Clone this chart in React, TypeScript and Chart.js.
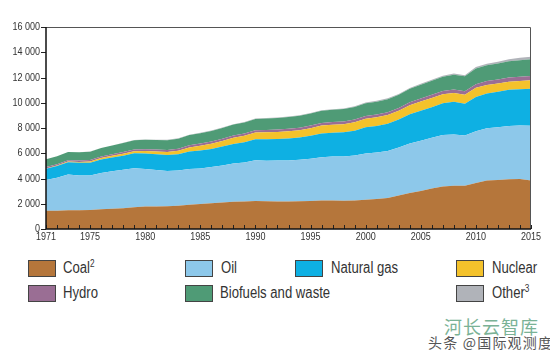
import React, { useEffect, useRef } from "react";
import { Chart, registerables } from "chart.js";

Chart.register(...registerables);

const years: number[] = [];
for (let y = 1971; y <= 2015; y++) years.push(y);

const coal = [1437, 1450, 1495, 1490, 1510, 1560, 1610, 1640, 1720, 1780, 1790, 1800, 1850, 1930, 1990, 2030, 2100, 2150, 2180, 2220, 2190, 2170, 2180, 2190, 2210, 2260, 2260, 2240, 2260, 2320, 2370, 2450, 2650, 2850, 3010, 3200, 3370, 3430, 3420, 3650, 3850, 3880, 3950, 3960, 3840];
const oil = [2437, 2600, 2819, 2750, 2720, 2880, 2960, 3050, 3100, 2980, 2880, 2800, 2790, 2830, 2810, 2880, 2930, 3030, 3080, 3230, 3220, 3250, 3240, 3290, 3360, 3420, 3490, 3510, 3570, 3660, 3680, 3720, 3800, 3920, 3990, 4030, 4080, 4060, 3990, 4100, 4130, 4170, 4210, 4230, 4330];
const naturalGas = [895, 940, 976, 1000, 1010, 1060, 1090, 1120, 1180, 1230, 1250, 1260, 1280, 1370, 1410, 1430, 1500, 1560, 1620, 1660, 1700, 1710, 1740, 1760, 1810, 1880, 1880, 1910, 1960, 2070, 2100, 2160, 2220, 2310, 2370, 2420, 2510, 2580, 2520, 2710, 2760, 2830, 2860, 2880, 2948];
const nuclear = [29, 39, 53, 67, 100, 115, 136, 160, 165, 186, 220, 245, 280, 335, 390, 420, 450, 485, 500, 526, 550, 555, 575, 585, 608, 630, 625, 640, 660, 676, 695, 700, 690, 715, 722, 728, 709, 712, 703, 719, 674, 642, 646, 662, 670];
const hydro = [104, 108, 110, 120, 123, 124, 127, 135, 141, 147, 149, 153, 159, 163, 166, 169, 170, 174, 175, 184, 189, 189, 197, 199, 211, 214, 217, 218, 220, 225, 222, 225, 225, 240, 250, 258, 262, 274, 277, 296, 300, 315, 326, 334, 335];
const biofuels = [617, 625, 640, 650, 660, 675, 690, 705, 720, 750, 765, 780, 795, 810, 825, 840, 855, 870, 885, 900, 910, 920, 930, 940, 950, 965, 975, 985, 995, 1010, 1020, 1030, 1045, 1065, 1090, 1110, 1130, 1160, 1180, 1240, 1260, 1280, 1300, 1310, 1320];
const other = [4, 5, 6, 7, 8, 9, 10, 12, 14, 17, 20, 22, 25, 28, 30, 32, 33, 34, 35, 36, 38, 39, 40, 41, 43, 44, 46, 48, 52, 60, 62, 65, 68, 72, 76, 80, 85, 92, 98, 110, 125, 140, 160, 180, 205];

const labeledYears = [1971, 1975, 1980, 1985, 1990, 1995, 2000, 2005, 2010, 2015];
const yTickValues = [0, 2000, 4000, 6000, 8000, 10000, 12000, 14000, 16000];

const seriesNames = ["Coal", "Oil", "Natural gas", "Nuclear", "Hydro", "Biofuels and waste", "Other"];
const seriesData = [coal, oil, naturalGas, nuclear, hydro, biofuels, other];
const seriesColors = ["#b5763b", "#8dc8ea", "#0eb0e3", "#f4c22b", "#9a6e94", "#4f9b76", "#b0b3b9"];

const SANS = "'Liberation Sans', Arial, sans-serif";
const SQUEEZE = 0.82;

const fmt = (v: number) => String(v).replace(/\B(?=(\d{3})+(?!\d))/g, " ");

function squeezedText(ctx: CanvasRenderingContext2D, text: string, x: number, y: number, align: "left" | "right" | "center") {
  const w = ctx.measureText(text).width * SQUEEZE;
  let left = x;
  if (align === "right") left = x - w;
  else if (align === "center") left = x - w / 2;
  ctx.save();
  ctx.translate(left, y);
  ctx.scale(SQUEEZE, 1);
  ctx.textAlign = "left";
  ctx.fillText(text, 0, 0);
  ctx.restore();
}

const framePlugin = {
  id: "frame",
  afterDatasetsDraw(chart: any) {
    const { ctx, chartArea } = chart;
    const { left, right, top, bottom } = chartArea;
    const xs = chart.scales.x;
    const ys = chart.scales.y;
    ctx.save();
    // inward year ticks
    ctx.strokeStyle = "#222";
    ctx.lineWidth = 1;
    for (let i = 0; i < years.length; i++) {
      const px = Math.round(xs.getPixelForValue(i)) + 0.5;
      ctx.beginPath();
      ctx.moveTo(px, bottom);
      ctx.lineTo(px, bottom - 4);
      ctx.stroke();
    }
    // y tick marks
    for (const v of yTickValues) {
      const py = Math.round(ys.getPixelForValue(v)) + 0.5;
      ctx.beginPath();
      ctx.moveTo(left - 5, py);
      ctx.lineTo(left, py);
      ctx.stroke();
    }
    // box top/right
    ctx.strokeStyle = "#555";
    ctx.beginPath();
    ctx.moveTo(left, top + 0.5);
    ctx.lineTo(right - 0.5, top + 0.5);
    ctx.lineTo(right - 0.5, bottom);
    ctx.stroke();
    // left axis & bottom axis
    ctx.strokeStyle = "#111";
    ctx.lineWidth = 1.5;
    ctx.beginPath();
    ctx.moveTo(left, top);
    ctx.lineTo(left, bottom);
    ctx.lineTo(right, bottom);
    ctx.stroke();
    // labels
    ctx.fillStyle = "#333";
    ctx.font = `11px ${SANS}`;
    ctx.textBaseline = "middle";
    for (const v of yTickValues) {
      squeezedText(ctx, fmt(v), left - 6, ys.getPixelForValue(v), "right");
    }
    for (const yr of labeledYears) {
      squeezedText(ctx, String(yr), xs.getPixelForValue(years.indexOf(yr)), bottom + 8, "center");
    }
    ctx.restore();
  },
};

const legendItems = [
  { name: "Coal", sup: "2", color: seriesColors[0], box: 28, text: 63, row: 0 },
  { name: "Oil", sup: "", color: seriesColors[1], box: 185, text: 221, row: 0 },
  { name: "Natural gas", sup: "", color: seriesColors[2], box: 295, text: 331, row: 0 },
  { name: "Nuclear", sup: "", color: seriesColors[3], box: 456, text: 492, row: 0 },
  { name: "Hydro", sup: "", color: seriesColors[4], box: 28, text: 63, row: 1 },
  { name: "Biofuels and waste", sup: "", color: seriesColors[5], box: 185, text: 220, row: 1 },
  { name: "Other", sup: "3", color: seriesColors[6], box: 456, text: 492, row: 1 },
];

export default function App() {
  const ref = useRef<HTMLCanvasElement | null>(null);

  useEffect(() => {
    if (!ref.current) return;
    const chart = new Chart(ref.current, {
      type: "line",
      data: {
        labels: years.map(String),
        datasets: seriesData.map((d, i) => ({
          label: seriesNames[i],
          data: d,
          backgroundColor: seriesColors[i],
          borderColor: seriesColors[i],
          borderWidth: 0,
          pointRadius: 0,
          fill: i === 0 ? "origin" : "-1",
          tension: 0,
        })),
      },
      options: {
        animation: false,
        responsive: false,
        devicePixelRatio: 1,
        layout: { padding: { left: 0, top: 27, right: 19, bottom: 0 } },
        plugins: { legend: { display: false }, tooltip: { enabled: false } },
        scales: {
          x: {
            type: "category",
            offset: false,
            border: { display: false },
            grid: { display: false, drawTicks: false },
            ticks: { display: false },
            afterFit: (s: any) => {
              s.height = 21;
            },
          },
          y: {
            stacked: true,
            min: 0,
            max: 16000,
            border: { display: false },
            grid: { display: false, drawTicks: false },
            ticks: { display: false, stepSize: 2000 },
            afterFit: (s: any) => {
              s.width = 46;
            },
          },
        },
      },
      plugins: [framePlugin],
    });
    return () => chart.destroy();
  }, []);

  return (
    <div
      style={{
        position: "absolute",
        left: 0,
        top: 0,
        width: 550,
        height: 354,
        background: "#fff",
        overflow: "hidden",
        fontFamily: SANS,
      }}
    >
      <canvas ref={ref} width={550} height={250} style={{ position: "absolute", left: 0, top: 0, width: 550, height: 250 }} />
      {legendItems.map((it) => {
        const top = it.row === 0 ? 260 : 285;
        return (
          <React.Fragment key={it.name}>
            <div
              style={{
                position: "absolute",
                left: it.box,
                top,
                width: 26,
                height: 15,
                background: it.color,
                border: "1px solid #444",
              }}
            />
            <div
              style={{
                position: "absolute",
                left: it.text,
                top: top - 2,
                height: 20,
                lineHeight: "20px",
                fontSize: 16,
                color: "#333",
                whiteSpace: "nowrap",
                transform: `scaleX(${SQUEEZE})`,
                transformOrigin: "0 50%",
              }}
            >
              {it.name}
              {it.sup ? <sup style={{ fontSize: 10, verticalAlign: "6px", lineHeight: 0 }}>{it.sup}</sup> : null}
            </div>
          </React.Fragment>
        );
      })}
      <div
        style={{
          position: "absolute",
          left: 444,
          top: 316,
          fontFamily: "'Noto Sans CJK SC', sans-serif",
          fontSize: 18,
          letterSpacing: 1,
          color: "#7ab296",
          lineHeight: "20px",
          whiteSpace: "nowrap",
        }}
      >
        河长云智库
      </div>
      <div
        style={{
          position: "absolute",
          left: 428,
          top: 334,
          fontFamily: "'Noto Sans CJK SC', sans-serif",
          fontSize: 14,
          letterSpacing: 1.2,
          color: "#555",
          lineHeight: "17px",
          whiteSpace: "nowrap",
        }}
      >
        头条 @国际观测度
      </div>
    </div>
  );
}
